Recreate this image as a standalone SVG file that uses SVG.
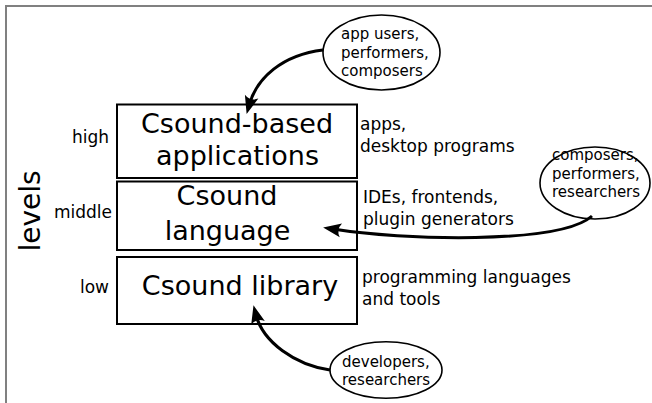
<svg xmlns="http://www.w3.org/2000/svg" width="652" height="403" viewBox="0 0 652 403">
<defs>
<style>
text{font-family:"DejaVu Sans","Liberation Sans",sans-serif;fill:#000}
.big{font-size:27px;text-anchor:middle}
.side{font-size:17px;text-anchor:end}
.note{font-size:17px}
.ell{font-size:15px}
.box{fill:#fff;stroke:#000;stroke-width:2}
.oval{fill:#fff;stroke:#000;stroke-width:1.6}
.con{fill:none;stroke:#000;stroke-width:3;marker-end:url(#ah)}
</style>
<marker id="ah" markerUnits="userSpaceOnUse" markerWidth="24" markerHeight="20" viewBox="0 0 24 20" refX="10" refY="10" orient="auto" overflow="visible">
<path d="M20,10 L2,3 Q7,10 2,17 Z" fill="#000"/>
</marker>
</defs>
<rect width="652" height="403" fill="#fff"/>
<path d="M6,403 V6 H652" fill="none" stroke="#808080" stroke-width="2"/>
<text transform="translate(40,211) rotate(-90)" style="font-size:28px;text-anchor:middle">levels</text>
<g id="high">
<rect class="box" x="117" y="104.5" width="240" height="73.5"/>
<text class="big" x="237" y="133">Csound-based</text>
<text class="big" x="237.5" y="165">applications</text>
<text class="side" x="109" y="143">high</text>
<text class="note" x="360" y="130">apps,</text>
<text class="note" x="360" y="152">desktop programs</text>
</g>
<g id="middle">
<rect class="box" x="117" y="181.5" width="240" height="68.5"/>
<text class="big" x="227" y="205">Csound</text>
<text class="big" x="227.5" y="240">language</text>
<text class="side" x="112" y="218">middle</text>
<text class="note" x="363" y="203">IDEs, frontends,</text>
<text class="note" x="363" y="225">plugin generators</text>
</g>
<g id="low">
<rect class="box" x="117" y="257" width="240" height="67"/>
<text class="big" x="240" y="295">Csound library</text>
<text class="side" x="109" y="293">low</text>
<text class="note" x="362" y="283">programming languages</text>
<text class="note" x="362" y="305">and tools</text>
</g>
<g id="users-top">
<ellipse class="oval" cx="381.5" cy="52.5" rx="58.5" ry="37.5"/>
<text class="ell" x="341" y="39">app users,</text>
<text class="ell" x="341" y="58">performers,</text>
<text class="ell" x="341" y="76">composers</text>
</g>
<g id="users-middle">
<ellipse class="oval" cx="595" cy="183" rx="55" ry="36"/>
<text class="ell" x="552" y="160">composers,</text>
<text class="ell" x="552" y="179">performers,</text>
<text class="ell" x="552" y="197">researchers</text>
</g>
<g id="users-low">
<ellipse class="oval" cx="386" cy="370" rx="56" ry="28.3"/>
<text class="ell" x="342" y="367">developers,</text>
<text class="ell" x="342" y="385">researchers</text>
</g>
<g id="connectors">
<path class="con" d="M323,50 C282,55 257,78 249.4,104.3"/>
<path class="con" d="M592,216 C560,245 400,240 333,229"/>
<path class="con" d="M330,370 C295,365 263,342 256,315"/>
</g>
</svg>
